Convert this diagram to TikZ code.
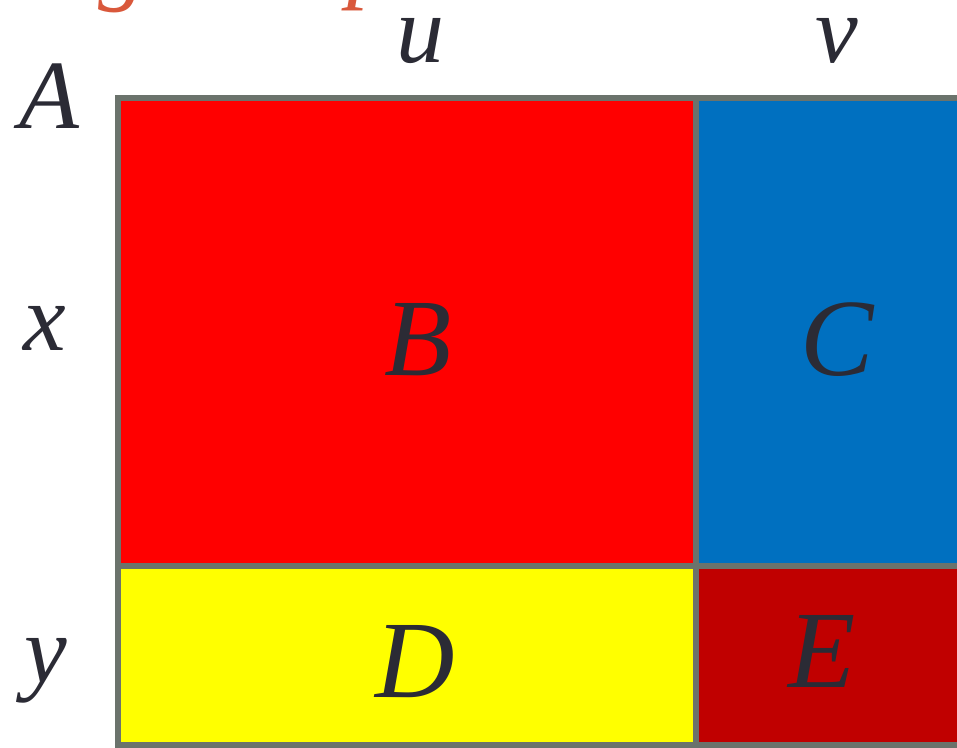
\documentclass[tikz,border=0pt]{standalone}
\usepackage{fontspec}
\setmainfont{Liberation Serif}
\definecolor{cellred}{HTML}{FF0000}
\definecolor{cellblue}{HTML}{0070C0}
\definecolor{cellyellow}{HTML}{FFFF00}
\definecolor{celldark}{HTML}{C00000}
\definecolor{gridgray}{HTML}{6B736C}
\definecolor{ink}{HTML}{2B2B35}
\definecolor{titleorange}{HTML}{D9583B}
\tikzset{
  lbl/.style={inner sep=0pt, anchor=base, text=ink, font=\fontsize{110}{110}\selectfont\itshape},
  sidelbl/.style={inner sep=0pt, anchor=base, text=ink, font=\fontsize{96}{96}\selectfont\itshape},
  titlefrag/.style={inner sep=0pt, anchor=base, text=titleorange, font=\fontsize{96}{96}\selectfont\itshape},
  gridline/.style={draw=gridgray, line width=6pt}
}
\begin{document}
\begin{tikzpicture}[x=1pt,y=-1pt]
\useasboundingbox (0,0) rectangle (957,747);
\clip (0,0) rectangle (957,747);
% cells
\fill[cellred] (118,98) rectangle (696,566);
\fill[cellblue] (696,98) rectangle (960,566);
\fill[cellyellow] (118,566) rectangle (696,750);
\fill[celldark] (696,566) rectangle (960,750);
% grid
\draw[gridline] (118,750) -- (118,98) -- (960,98);
\draw[gridline] (696,98) -- (696,750);
\draw[gridline] (118,566) -- (960,566);
\draw[gridline] (115,745) -- (960,745);
% cut-off title fragments
\node[titlefrag] (tg) at (122,-8) {g};
\node[titlefrag] (tp) at (371,-10) {p};
% labels
\node[sidelbl, font=\fontsize{98}{98}\selectfont\itshape] (lA) at (49,128) {A};
\node[sidelbl] (lu) at (420,62) {u};
\node[sidelbl] (lv) at (837,62) {v};
\node[sidelbl] (lx) at (45,350) {x};
\node[sidelbl] (ly) at (46,682) {y};
\node[lbl] (lB) at (418,375) {B};
\node[lbl] (lC) at (837,375) {C};
\node[lbl] (lD) at (415,697) {D};
\node[lbl] (lE) at (822,687) {E};
\end{tikzpicture}
\end{document}
